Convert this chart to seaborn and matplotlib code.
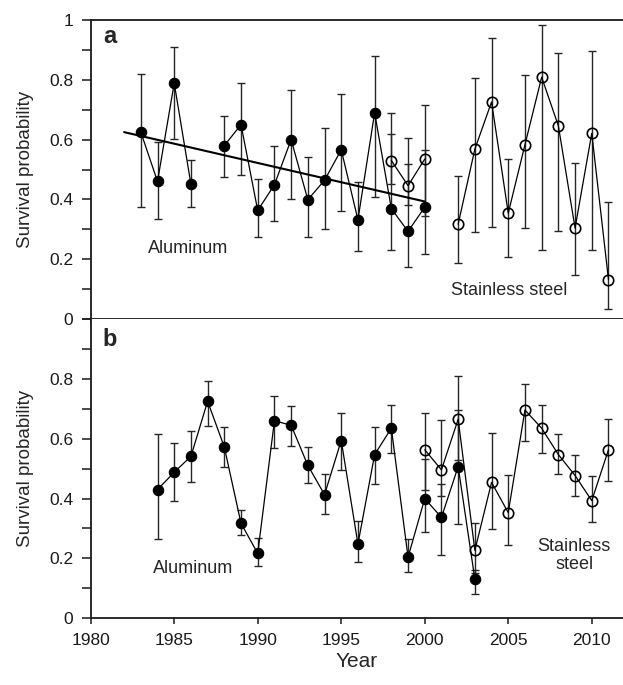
import numpy as np
import pandas as pd
import matplotlib
matplotlib.use('Agg')
import matplotlib.pyplot as plt
from matplotlib.ticker import MultipleLocator, FuncFormatter
import seaborn as sns

sns.set_style('ticks')
plt.rcParams['font.family'] = ['Liberation Sans', 'DejaVu Sans']

# panel a - aluminum bands
a_al_years = [1983, 1984, 1985, 1986, 1988, 1989, 1990, 1991, 1992, 1993, 1994,
              1995, 1996, 1997, 1998, 1999, 2000]
a_al_val = [0.625, 0.460, 0.789, 0.451, 0.580, 0.650, 0.363, 0.449, 0.600, 0.399,
            0.464, 0.566, 0.332, 0.690, 0.369, 0.293, 0.374]
a_al_lo = [0.374, 0.335, 0.603, 0.374, 0.475, 0.483, 0.274, 0.328, 0.403, 0.274,
           0.301, 0.361, 0.228, 0.408, 0.230, 0.173, 0.217]
a_al_hi = [0.821, 0.592, 0.911, 0.532, 0.680, 0.789, 0.467, 0.580, 0.766, 0.541,
           0.638, 0.752, 0.457, 0.878, 0.688, 0.606, 0.564]

# panel a - stainless steel bands
a_ss_years = [1998, 1999, 2000, 2002, 2003, 2004, 2005, 2006, 2007, 2008, 2009,
              2010, 2011]
a_ss_val = [0.530, 0.446, 0.535, 0.317, 0.568, 0.726, 0.354, 0.583, 0.809, 0.646,
            0.304, 0.621, 0.132]
a_ss_lo = [0.450, 0.380, 0.345, 0.187, 0.292, 0.309, 0.206, 0.305, 0.231, 0.293,
           0.147, 0.231, 0.032]
a_ss_hi = [0.620, 0.520, 0.716, 0.479, 0.807, 0.940, 0.535, 0.817, 0.983, 0.891,
           0.522, 0.896, 0.390]

# trend line for aluminum (panel a)
trend_years = [1982, 2000]
trend_vals = [0.625, 0.393]

# panel b - aluminum bands
b_al_years = list(range(1984, 2004))
b_al_val = [0.430, 0.488, 0.541, 0.725, 0.572, 0.317, 0.217, 0.660, 0.645, 0.511,
            0.413, 0.594, 0.248, 0.547, 0.635, 0.204, 0.400, 0.337, 0.507, 0.131]
b_al_lo = [0.266, 0.391, 0.456, 0.644, 0.504, 0.277, 0.175, 0.568, 0.575, 0.453,
           0.350, 0.496, 0.187, 0.450, 0.553, 0.154, 0.288, 0.211, 0.316, 0.082]
b_al_hi = [0.616, 0.587, 0.626, 0.794, 0.639, 0.363, 0.269, 0.744, 0.708, 0.573,
           0.483, 0.687, 0.324, 0.640, 0.713, 0.266, 0.531, 0.450, 0.695, 0.160]

# panel b - stainless steel bands
b_ss_years = list(range(2000, 2012))
b_ss_val = [0.563, 0.496, 0.665, 0.227, 0.454, 0.353, 0.696, 0.635, 0.547, 0.477,
            0.393, 0.563]
b_ss_lo = [0.430, 0.410, 0.530, 0.150, 0.298, 0.245, 0.591, 0.551, 0.483, 0.410,
           0.321, 0.459]
b_ss_hi = [0.687, 0.663, 0.809, 0.317, 0.620, 0.479, 0.784, 0.712, 0.615, 0.545,
           0.476, 0.666]


def to_frame(years, val, lo, hi):
    df = pd.DataFrame({'year': years, 'val': val, 'lo': lo, 'hi': hi})
    # break the line where a year is missing
    df['seg'] = (df['year'].diff() > 1).cumsum()
    return df


def draw_series(ax, df, filled):
    ax.errorbar(df['year'], df['val'],
                yerr=[df['val'] - df['lo'], df['hi'] - df['val']],
                fmt='none', ecolor='0.15', elinewidth=1.0, capsize=3.2,
                capthick=1.0, zorder=2)
    sns.lineplot(data=df, x='year', y='val', units='seg', estimator=None,
                 color='k', lw=0.9, marker='o', markersize=7.5,
                 markerfacecolor='k' if filled else 'none',
                 markeredgecolor='k', markeredgewidth=1.2 if not filled else 0.8,
                 ax=ax, zorder=3, legend=False)


fig = plt.figure(figsize=(6.23, 6.85), dpi=100)
ax_a = fig.add_axes([0.1456, 0.5343, 0.8544, 0.4365])
ax_b = fig.add_axes([0.1456, 0.0974, 0.8544, 0.4369])

draw_series(ax_a, to_frame(a_al_years, a_al_val, a_al_lo, a_al_hi), True)
draw_series(ax_a, to_frame(a_ss_years, a_ss_val, a_ss_lo, a_ss_hi), False)
sns.lineplot(x=trend_years, y=trend_vals, color='k', lw=1.5, ax=ax_a, zorder=4)

draw_series(ax_b, to_frame(b_al_years, b_al_val, b_al_lo, b_al_hi), True)
draw_series(ax_b, to_frame(b_ss_years, b_ss_val, b_ss_lo, b_ss_hi), False)

fmt = FuncFormatter(lambda v, p: '%g' % round(v, 2))
for ax in (ax_a, ax_b):
    ax.set_xlim(1980, 2011.87)
    ax.set_ylim(0, 1.0)
    ax.xaxis.set_major_locator(MultipleLocator(5))
    ax.yaxis.set_minor_locator(MultipleLocator(0.1))
    ax.yaxis.set_major_formatter(fmt)
    ax.spines['right'].set_visible(False)
    for s in ('left', 'top', 'bottom'):
        ax.spines[s].set_linewidth(1.3)
        ax.spines[s].set_color('0.1')
    ax.tick_params(axis='y', which='both', direction='out', length=6.5,
                   width=1.1, pad=6, labelsize=12.5, colors='0.1')
    ax.tick_params(axis='x', which='major', direction='out', length=4.5,
                   width=1.1, pad=6, labelsize=12.5, colors='0.1')
    ax.set_ylabel('Survival probability', fontsize=13.5, labelpad=11)
    ax.set_xlabel('')

ax_a.set_yticks([0, 0.2, 0.4, 0.6, 0.8, 1.0])
ax_a.tick_params(axis='x', labelbottom=False)
ax_b.set_yticks([0, 0.2, 0.4, 0.6, 0.8])
ax_b.spines['top'].set_visible(False)
ax_b.set_xlabel('Year', fontsize=15, labelpad=3)

ax_a.text(0.023, 0.944, 'a', transform=ax_a.transAxes, fontsize=17,
          fontweight='bold', va='center', ha='left')
ax_b.text(0.023, 0.93, 'b', transform=ax_b.transAxes, fontsize=17,
          fontweight='bold', va='center', ha='left')

ax_a.text(1983.4, 0.237, 'Aluminum', fontsize=13, va='center', ha='left')
ax_a.text(2001.6, 0.095, 'Stainless steel', fontsize=13, va='center', ha='left')
ax_b.text(1983.75, 0.168, 'Aluminum', fontsize=13, va='center', ha='left')
ax_b.text(2008.95, 0.21, 'Stainless\nsteel', fontsize=13, va='center',
          ha='center', linespacing=1.1)

fig.savefig('out.png', dpi=100)
